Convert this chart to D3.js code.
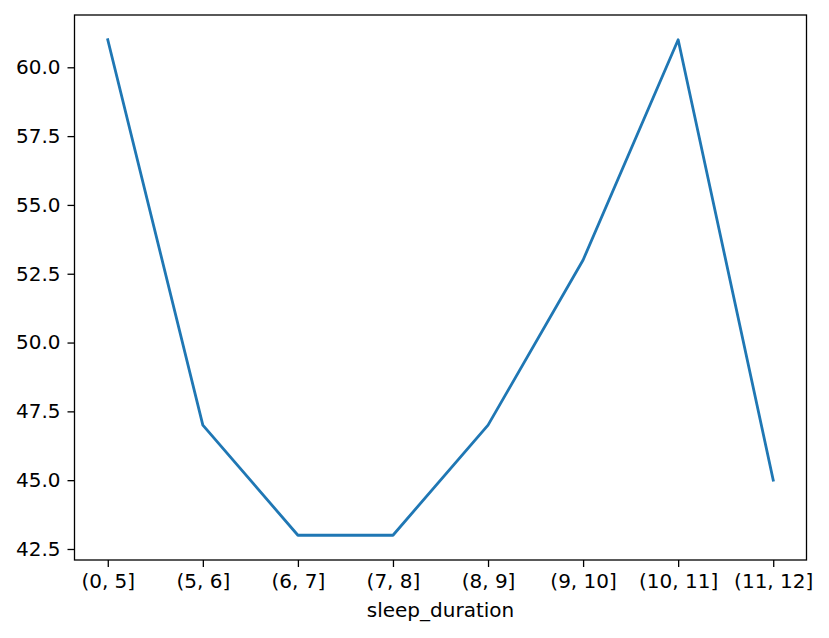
<!DOCTYPE html>
<html><head><meta charset="utf-8">
<script src="https://cdn.jsdelivr.net/npm/d3@7"></script>
<style>body{margin:0;background:#fff}svg{display:block}text{font-family:"DejaVu Sans",sans-serif;fill:#000}</style>
</head><body>
<script>
const categories = ["(0, 5]","(5, 6]","(6, 7]","(7, 8]","(8, 9]","(9, 10]","(10, 11]","(11, 12]"];
const values = [61, 47, 43, 43, 47, 53, 61, 45];
const yTicks = [42.5, 45.0, 47.5, 50.0, 52.5, 55.0, 57.5, 60.0];
const xLabel = "sleep_duration";

const W = 829, H = 638;
const m = {left: 74.5, right: W - 806.5, top: 15, bottom: H - 560};
const svg = d3.select("body").append("svg").attr("width", W).attr("height", H);
const iw = W - m.left - m.right, ih = H - m.top - m.bottom;
const g = svg.append("g").attr("transform", `translate(${m.left},${m.top})`);

const n = categories.length;
const x = d3.scaleLinear().domain([-0.35, n - 1 + 0.35]).range([0, iw]);
const yMin = d3.min(values), yMax = d3.max(values), pad = (yMax - yMin) * 0.05;
const y = d3.scaleLinear().domain([yMin - pad, yMax + pad]).range([ih, 0]);

const line = d3.line().x((d, i) => x(i)).y(d => y(d));
g.append("path").datum(values).attr("d", line).attr("fill", "none")
  .attr("stroke", "#1f77b4").attr("stroke-width", 2.8).attr("stroke-linejoin", "round").attr("stroke-linecap", "square");

const fs = 20;
const xAxis = d3.axisBottom(x).tickValues(d3.range(n)).tickFormat(i => categories[i]).tickSize(7).tickPadding(7);
const gx = g.append("g").attr("transform", `translate(0,${ih})`).call(xAxis);
const yAxis = d3.axisLeft(y).tickValues(yTicks).tickFormat(d3.format(".1f")).tickSize(7).tickPadding(7);
const gy = g.append("g").call(yAxis);
[gx, gy].forEach(a => {
  a.select(".domain").remove();
  a.selectAll(".tick line").attr("stroke", "#000").attr("stroke-width", 1.3);
  a.selectAll(".tick text").style("font-size", fs + "px").attr("fill", "#000").style("font-family", "DejaVu Sans");
});

g.append("rect").attr("width", iw).attr("height", ih).attr("fill", "none").attr("stroke", "#000").attr("stroke-width", 1.3);

svg.append("text").attr("x", m.left + iw / 2).attr("y", 617).attr("text-anchor", "middle")
  .style("font-size", fs + "px").text(xLabel);
</script>
</body></html>
